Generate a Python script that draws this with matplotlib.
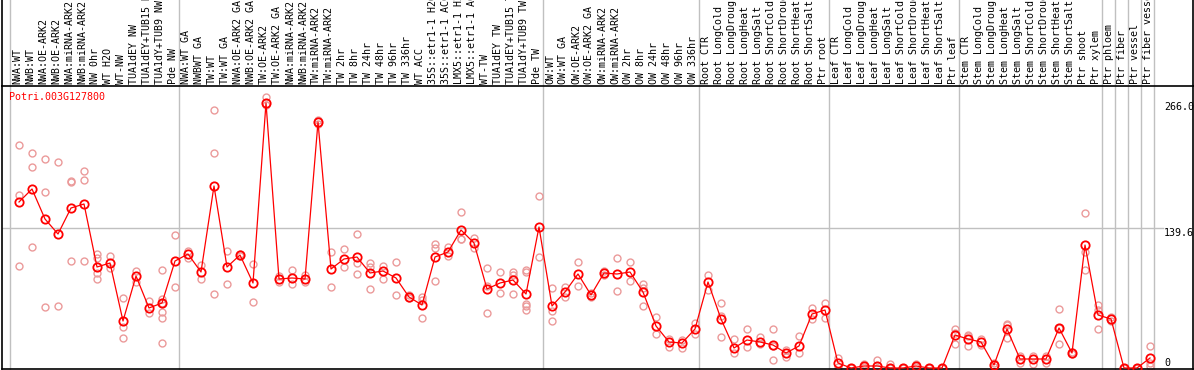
import matplotlib
matplotlib.use("Agg")
import matplotlib.pyplot as plt
import matplotlib.transforms as mtransforms

gene = "Potri.003G127800"

samples = ["NWA:WT", "NWB:WT", "NWA:OE-ARK2", "NWB:OE-ARK2", "NWA:miRNA-ARK2",
           "NWB:miRNA-ARK2", "NW 0hr", "WT H2O", "WT-NW", "TUA1dEY NW",
           "TUA1dEY+TUB15 NW", "TUA1dY+TUB9 NW", "Pde NW",
           "NWA:WT GA", "NWBWT GA", "TW:WT", "TW:WT GA", "NWA:OE-ARK2 GA",
           "NWB:OE-ARK2 GA", "TW:OE-ARK2", "TW:OE-ARK2 GA", "NWA:miRNA-ARK2",
           "NWB:miRNA-ARK2", "TW:miRNA-ARK2", "TW:miRNA-ARK2", "TW 2hr", "TW 8hr",
           "TW 24hr", "TW 48hr", "TW 96hr", "TW 336hr", "WT ACC",
           "35S::etr1-1 H2O", "35S::etr1-1 ACC", "LMX5::etr1-1 H2O",
           "LMX5::etr1-1 ACC", "WT-TW", "TUA1dEY TW", "TUA1dEY+TUB15 TW",
           "TUA1dY+TUB9 TW", "Pde TW",
           "OW:WT", "OW:WT GA", "OW:OE-ARK2", "OW:OE-ARK2 GA", "OW:miRNA-ARK2",
           "OW:miRNA-ARK2", "OW 2hr", "OW 8hr", "OW 24hr", "OW 48hr", "OW 96hr",
           "OW 336hr",
           "Root CTR", "Root LongCold", "Root LongDrought", "Root LongHeat",
           "Root LongSalt", "Root ShortCold", "Root ShortDrought", "Root ShortHeat",
           "Root ShortSalt", "Ptr root",
           "Leaf CTR", "Leaf LongCold", "Leaf LongDrought", "Leaf LongHeat",
           "Leaf LongSalt", "Leaf ShortCold", "Leaf ShortDrought", "Leaf ShortHeat",
           "Leaf ShortSalt", "Ptr leaf",
           "Stem CTR", "Stem LongCold", "Stem LongDrought", "Stem LongHeat",
           "Stem LongSalt", "Stem ShortCold", "Stem ShortDrought", "Stem ShortHeat",
           "Stem ShortSalt", "Ptr shoot", "Ptr xylem",
           "Ptr phloem", "Ptr fiber", "Ptr vessel", "Ptr fiber vessel"]

# mean expression per sample
means = [166, 179, 149, 134, 160, 164, 101, 105, 47, 92, 60, 65, 107,
         114, 96, 182, 101, 113, 85, 265, 89, 90, 89, 246, 99, 109, 111, 95,
         97, 90, 71, 63, 111, 116, 138, 125, 79, 85, 88, 74, 141,
         62, 76, 94, 73, 95, 94, 96, 76, 42, 26, 25, 39,
         86, 49, 20, 28, 26, 23, 15, 22, 54, 58,
         5, 0, 2, 2, 0, 0, 2, 0, 0, 33,
         29, 26, 3, 39, 9, 9, 9, 40, 15, 123, 53,
         49, 0, 0, 10]

# replicate values per sample
reps = [[223, 173, 102], [215, 201, 121], [209, 176, 61], [206, 62],
        [187, 186, 107], [197, 188, 107], [114, 110, 95, 89], [112, 100],
        [70, 41, 30], [97, 86], [67, 55], [98, 69, 65, 56, 50, 25], [133, 81],
        [117, 110], [103, 89], [258, 215, 74], [117, 84], [114, 112], [104, 66],
        [271, 263], [92, 86], [98, 84], [93, 86], [248, 244], [116, 81],
        [119, 101], [134, 105, 94], [105, 101, 79], [102, 89], [106, 73],
        [73, 70], [71, 68, 50], [124, 120, 87], [121, 112], [156, 129, 129],
        [130, 120], [100, 82, 55], [96, 75], [96, 93, 74], [98, 96, 64, 62, 58],
        [172, 111],
        [80, 57, 47], [81, 71], [106, 82], [75, 71], [97, 93], [110, 77],
        [106, 87], [84, 80, 62], [51, 34], [29, 21], [28, 20], [45, 34],
        [93, 78], [65, 52, 31], [29, 15], [39, 21], [31, 24], [39, 22, 8],
        [18, 11], [32, 15], [60, 49], [65, 50],
        [10, 1], [0, 0], [4, 1], [8, 0], [4, 0], [0, 0], [4, 1], [0, 0],
        [0, 0], [39, 35, 24],
        [33, 32, 22], [29, 23], [5, 1], [44, 43, 30], [12, 5], [12, 4],
        [12, 5], [59, 40, 24], [16, 14], [155, 116, 98], [63, 58, 39],
        [51, 47], [0, 0], [0, 0], [22, 5, 2]]

# first sample index of each group (last = end)
group_edges = [0, 13, 41, 53, 63, 73, 84, 85, 86, 87, 88]
yticks = [266.0, 139.6, 0]

mono = "DejaVu Sans Mono"
fig = plt.figure(figsize=(11.94, 3.70), dpi=100)
W, H = 1194, 370
ax = fig.add_axes([2 / W, 1 / H, 1191 / W, 283 / H])
ax.set_xlim((2 - 19) / 13, (1193 - 19) / 13)
ax.set_ylim(-1, 282)
ax.set_xticks([])
ax.set_yticks([])
for s in ax.spines.values():
    s.set_color("black")
    s.set_linewidth(1.2)

top = 1 + 86 / 283
trans = mtransforms.blended_transform_factory(ax.transData, ax.transAxes)

# grid
for e in group_edges:
    ax.axvline(e - 9 / 13, ymin=0, ymax=top, color="#c0c0c0", lw=1, clip_on=False, zorder=0)
ax.axhline(139.6, xmin=0, xmax=0.975, color="#c0c0c0", lw=1, zorder=0)
ax.plot([0, 0], [1, top], transform=ax.transAxes, color="black", lw=1.2, clip_on=False)
ax.plot([1, 1], [1, top], transform=ax.transAxes, color="black", lw=1.2, clip_on=False)

# replicates
for i, r in enumerate(reps):
    ax.plot([i] * len(r), r, "o", ms=5, mfc="none", mec="#eb9a9a", mew=1.0, zorder=2)

# mean line
x = list(range(len(means)))
ax.plot(x, means, "-", color="red", lw=0.9, zorder=3)
ax.plot(x, means, "o", ms=6, mfc="none", mec="red", mew=1.3, zorder=4)

# sample labels
for i, lab in enumerate(samples):
    ax.text(i - 0.15, 1 + 2 / 283, lab, transform=trans, rotation=90, ha="center",
            va="bottom", family=mono, fontsize=7.2, clip_on=False)

# title + value labels
ax.text(7.3 / 1191, (369 - 97) / 283, gene, transform=ax.transAxes, color="red",
        family=mono, fontsize=7.2, va="center", ha="left")
for v in yticks:
    va = "bottom" if v == 0 else "top"
    lab = "0" if v == 0 else "%.1f" % v
    ax.text((1164 - 2) / 1191, v, lab, transform=mtransforms.blended_transform_factory(ax.transAxes, ax.transData),
            family=mono, fontsize=7.2, va=va, ha="left", clip_on=False)

fig.savefig("out.png", dpi=100)
